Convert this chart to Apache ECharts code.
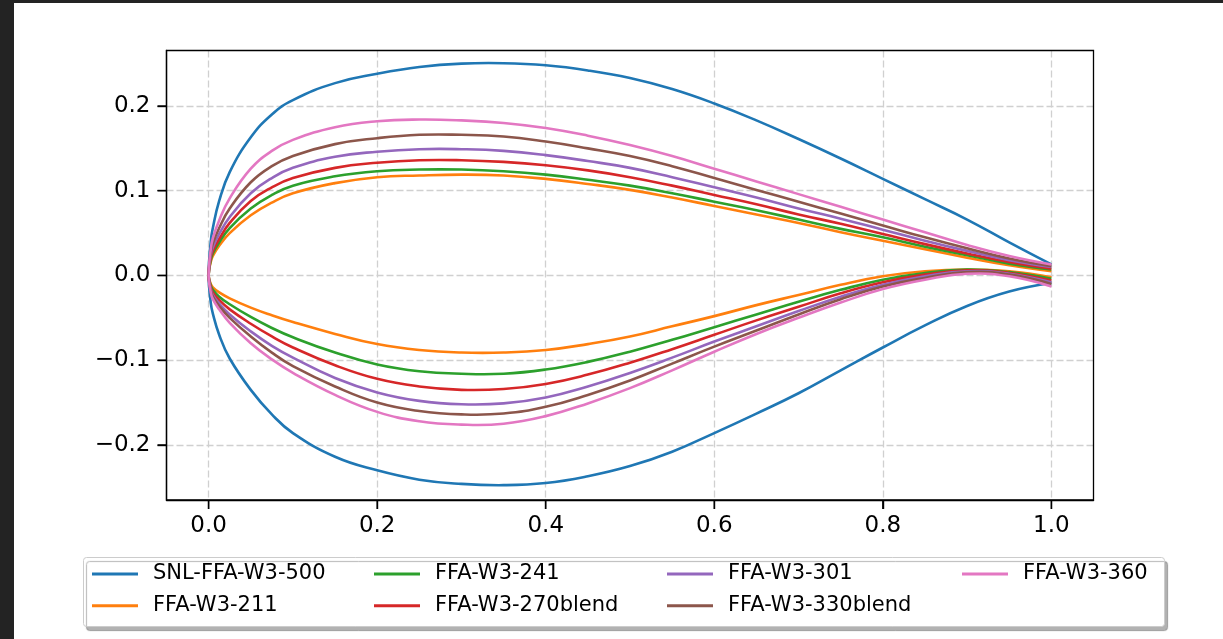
<!DOCTYPE html>
<html>
<head>
<meta charset="utf-8">
<script src="https://cdn.jsdelivr.net/npm/echarts@6/dist/echarts.min.js"></script>
<style>
html,body{margin:0;padding:0;background:#fff;}
#chart{width:1223px;height:639px;}
</style>
</head>
<body>
<div id="chart"></div>
<script>
// chord-wise stations
const xs = [0, 0.0025, 0.005, 0.0125, 0.025, 0.05, 0.075, 0.1, 0.15, 0.2, 0.25, 0.3, 0.35, 0.4, 0.45, 0.5, 0.55, 0.6, 0.65, 0.7, 0.75, 0.8, 0.85, 0.9, 0.95, 1.0];

const names = ['SNL-FFA-W3-500', 'FFA-W3-211', 'FFA-W3-241', 'FFA-W3-270blend', 'FFA-W3-301', 'FFA-W3-330blend', 'FFA-W3-360'];
const colors = ['#1f77b4', '#ff7f0e', '#2ca02c', '#d62728', '#9467bd', '#8c564b', '#e377c2'];

const snl500Upper = [0, 0.040, 0.056, 0.088, 0.122, 0.163, 0.190, 0.207, 0.227, 0.238, 0.246, 0.250, 0.2505, 0.248, 0.242, 0.233, 0.220, 0.203, 0.183, 0.161, 0.138, 0.114, 0.090, 0.066, 0.039, 0.013];
const snl500Lower = [0, -0.032, -0.045, -0.070, -0.098, -0.135, -0.164, -0.186, -0.214, -0.230, -0.241, -0.246, -0.2475, -0.245, -0.237, -0.225, -0.208, -0.186, -0.163, -0.139, -0.112, -0.085, -0.059, -0.036, -0.019, -0.009];

const w211Upper = [0, 0.016, 0.023, 0.035, 0.050, 0.071, 0.086, 0.097, 0.109, 0.116, 0.118, 0.119, 0.118, 0.114, 0.108, 0.101, 0.092, 0.082, 0.072, 0.062, 0.051, 0.041, 0.031, 0.021, 0.012, 0.005];
const w211Lower = [0, -0.010, -0.014, -0.020, -0.027, -0.038, -0.047, -0.055, -0.069, -0.081, -0.088, -0.091, -0.091, -0.088, -0.081, -0.072, -0.060, -0.048, -0.035, -0.023, -0.011, -0.001, 0.005, 0.007, 0.005, -0.002];

const w241Upper = [0, 0.018, 0.026, 0.039, 0.056, 0.079, 0.095, 0.106, 0.117, 0.123, 0.125, 0.125, 0.123, 0.119, 0.113, 0.106, 0.097, 0.087, 0.077, 0.066, 0.055, 0.045, 0.034, 0.024, 0.014, 0.007];
const w241Lower = [0, -0.012, -0.017, -0.025, -0.034, -0.049, -0.062, -0.073, -0.091, -0.105, -0.113, -0.116, -0.116, -0.111, -0.102, -0.090, -0.076, -0.061, -0.046, -0.031, -0.017, -0.005, 0.003, 0.007, 0.004, -0.004];

const w270Upper = [0, 0.021, 0.029, 0.043, 0.062, 0.088, 0.104, 0.115, 0.127, 0.133, 0.136, 0.136, 0.134, 0.130, 0.124, 0.116, 0.106, 0.095, 0.084, 0.072, 0.061, 0.049, 0.037, 0.026, 0.016, 0.008];
const w270Lower = [0, -0.014, -0.020, -0.029, -0.040, -0.057, -0.072, -0.085, -0.106, -0.122, -0.131, -0.135, -0.134, -0.128, -0.117, -0.103, -0.087, -0.070, -0.053, -0.037, -0.021, -0.008, 0.001, 0.006, 0.003, -0.006];

const w301Upper = [0, 0.024, 0.033, 0.049, 0.069, 0.097, 0.115, 0.127, 0.140, 0.146, 0.149, 0.149, 0.147, 0.142, 0.135, 0.127, 0.116, 0.104, 0.092, 0.079, 0.067, 0.054, 0.041, 0.029, 0.018, 0.010];
const w301Lower = [0, -0.016, -0.023, -0.033, -0.046, -0.066, -0.083, -0.097, -0.121, -0.138, -0.148, -0.152, -0.151, -0.144, -0.131, -0.115, -0.097, -0.078, -0.060, -0.042, -0.025, -0.011, -0.001, 0.005, 0.002, -0.008];

const w330Upper = [0, 0.027, 0.038, 0.056, 0.079, 0.110, 0.129, 0.141, 0.155, 0.162, 0.166, 0.166, 0.164, 0.158, 0.150, 0.141, 0.129, 0.115, 0.101, 0.087, 0.073, 0.059, 0.045, 0.032, 0.020, 0.011];
const w330Lower = [0, -0.018, -0.025, -0.036, -0.050, -0.072, -0.091, -0.107, -0.131, -0.150, -0.160, -0.164, -0.163, -0.155, -0.141, -0.124, -0.104, -0.084, -0.065, -0.046, -0.028, -0.013, -0.003, 0.004, 0.001, -0.010];

const w360Upper = [0, 0.031, 0.044, 0.065, 0.091, 0.126, 0.147, 0.160, 0.175, 0.182, 0.184, 0.183, 0.180, 0.174, 0.165, 0.154, 0.141, 0.126, 0.111, 0.096, 0.081, 0.066, 0.051, 0.036, 0.023, 0.013];
const w360Lower = [0, -0.020, -0.028, -0.040, -0.056, -0.080, -0.099, -0.115, -0.141, -0.161, -0.172, -0.176, -0.175, -0.166, -0.151, -0.133, -0.112, -0.090, -0.069, -0.050, -0.032, -0.016, -0.005, 0.002, -0.001, -0.013];

const xTicks = [0.0, 0.2, 0.4, 0.6, 0.8, 1.0];
const yTicks = [-0.2, -0.1, 0.0, 0.1, 0.2];

const X_MIN = -0.05, X_MAX = 1.05, Y_MIN = -0.265, Y_MAX = 0.2655;

const uppers = [snl500Upper, w211Upper, w241Upper, w270Upper, w301Upper, w330Upper, w360Upper];
const lowers = [snl500Lower, w211Lower, w241Lower, w270Lower, w301Lower, w330Lower, w360Lower];

function contour(up, lo) {
  const pts = [];
  for (let i = xs.length - 1; i >= 0; i--) pts.push([xs[i], up[i]]);
  for (let i = 1; i < xs.length; i++) pts.push([xs[i], lo[i]]);
  return pts;
}

const FONT = 'DejaVu Sans';
const TICK_LEN = 9;
const series = names.map((n, i) => {
  const pts = contour(uppers[i], lowers[i]);
  return {
    name: n,
    type: 'custom',
    coordinateSystem: 'cartesian2d',
    data: pts,
    encode: { x: 0, y: 1 },
    itemStyle: { color: colors[i] },
    z: 3 + i,
    renderItem: function (params, api) {
      if (params.dataIndex !== 0) return null;
      const pix = pts.map(p => api.coord(p));
      return {
        type: 'polyline',
        shape: { points: pix, smooth: 0.45, smoothConstraint: false },
        style: { stroke: colors[i], lineWidth: 2.6, fill: null, lineJoin: 'round' },
        silent: true
      };
    }
  };
});

const legendCols = [
  { left: 92, data: [names[0], names[1]] },
  { left: 374, data: [names[2], names[3]] },
  { left: 667, data: [names[4], names[5]] },
  { left: 962, data: [names[6]] }
];

const legends = legendCols.map(c => ({
  left: c.left,
  top: 562,
  orient: 'vertical',
  padding: 0,
  itemGap: 7.7,
  itemWidth: 46,
  itemHeight: 3,
  icon: 'rect',
  data: c.data,
  selectedMode: false,
  textStyle: { fontFamily: FONT, fontSize: 21, color: '#000', lineHeight: 24, padding: [0, 0, 0, 10] }
}));

const fmt = v => (v < -1e-9 ? '\u2212' : '') + Math.abs(v).toFixed(1);

const baseGraphic = [
  { id: 'frameTop', type: 'rect', shape: { x: 0, y: 0, width: 1223, height: 3 }, style: { fill: '#232323' }, z: 100 },
  { id: 'frameLeft', type: 'rect', shape: { x: 0, y: 0, width: 14, height: 639 }, style: { fill: '#232323' }, z: 100 },
  {
    id: 'legendBox', type: 'rect', z: -1,
    shape: { x: 83.5, y: 557.5, width: 1081, height: 69, r: 3 },
    style: {
      fill: '#fff', stroke: '#cccccc', lineWidth: 1,
      shadowColor: 'rgba(0,0,0,0.3)', shadowOffsetX: 3, shadowOffsetY: 4, shadowBlur: 1
    }
  }
];

const chart = echarts.init(document.getElementById('chart'), null, { renderer: 'canvas' });
chart.setOption({
  backgroundColor: '#fff',
  animation: false,
  grid: {
    left: 166.5, top: 50.5, width: 927, height: 449.5,
    show: true, borderColor: '#000', borderWidth: 1.3, backgroundColor: 'transparent', z: 10
  },
  xAxis: {
    type: 'value', min: X_MIN, max: X_MAX, position: 'bottom',
    axisLine: { show: true, onZero: false, lineStyle: { color: '#000', width: 1.3 } },
    axisTick: { show: true, inside: false, customValues: xTicks, length: TICK_LEN, lineStyle: { color: '#000', width: 1.4 } },
    axisLabel: { customValues: xTicks, margin: 15, fontFamily: FONT, fontSize: 23, color: '#000', formatter: fmt },
    splitLine: { show: true, lineStyle: { color: '#d0d0d0', width: 1.3, type: [7, 3] } }
  },
  yAxis: {
    type: 'value', min: Y_MIN, max: Y_MAX, position: 'left',
    axisLine: { show: true, onZero: false, lineStyle: { color: '#000', width: 1.3 } },
    axisTick: { show: true, inside: false, customValues: yTicks, length: TICK_LEN, lineStyle: { color: '#000', width: 1.4 } },
    axisLabel: { customValues: yTicks, margin: 16, fontFamily: FONT, fontSize: 23, color: '#000', formatter: fmt },
    splitLine: { show: true, lineStyle: { color: '#d0d0d0', width: 1.3, type: [7, 3] } }
  },
  legend: legends,
  graphic: baseGraphic,
  series: series
});

// outward tick marks on bottom / left spines, placed through the axes' own scales
const tickGraphic = [];
const finder = { xAxisIndex: 0, yAxisIndex: 0 };
xTicks.forEach((v, k) => {
  const p = chart.convertToPixel(finder, [v, Y_MIN]);
  if (p && isFinite(p[0])) {
    tickGraphic.push({ id: 'xt' + k, type: 'line', z: 50, shape: { x1: p[0], y1: p[1], x2: p[0], y2: p[1] + TICK_LEN }, style: { stroke: '#000', lineWidth: 1.4 } });
  }
});
yTicks.forEach((v, k) => {
  const p = chart.convertToPixel(finder, [X_MIN, v]);
  if (p && isFinite(p[1])) {
    tickGraphic.push({ id: 'yt' + k, type: 'line', z: 50, shape: { x1: p[0] - TICK_LEN, y1: p[1], x2: p[0], y2: p[1] }, style: { stroke: '#000', lineWidth: 1.4 } });
  }
});
chart.setOption({ graphic: baseGraphic.concat(tickGraphic) });
</script>
</body>
</html>
